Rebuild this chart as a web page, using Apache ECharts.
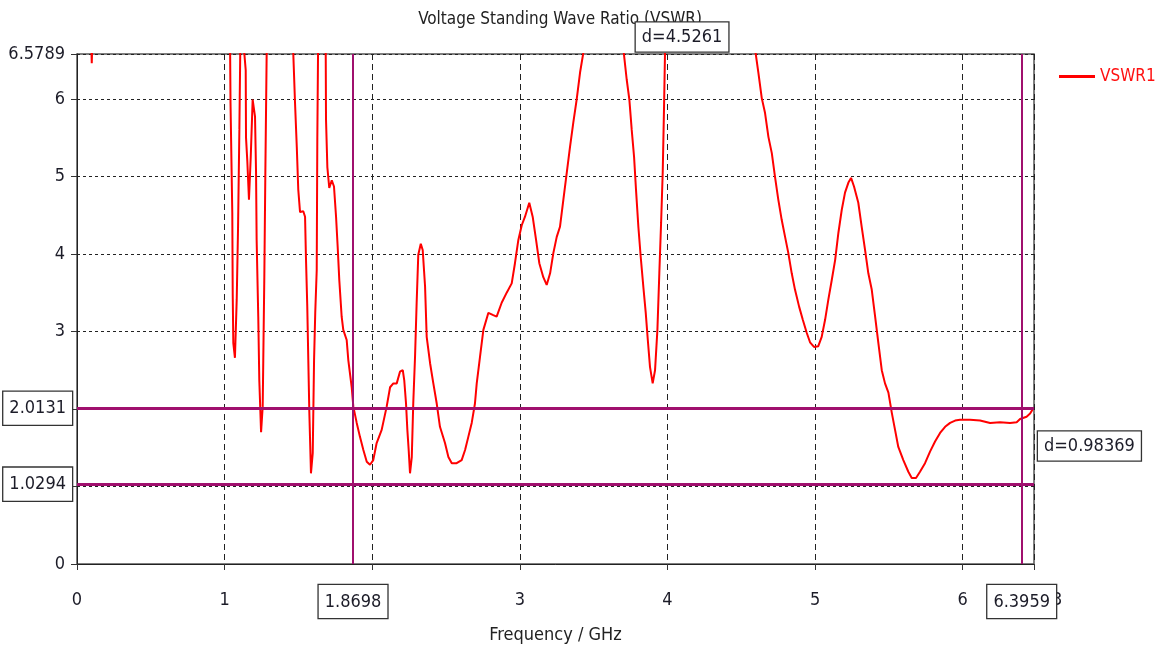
<!DOCTYPE html>
<html>
<head>
<meta charset="utf-8">
<title>VSWR</title>
<script src="https://cdn.jsdelivr.net/npm/echarts@6/dist/echarts.min.js"></script>
<style>
    html, body { margin: 0; padding: 0; background: #fff; overflow: hidden; }
    #chart { width: 1157px; height: 654px; }
</style>
</head>
<body>
<div id="chart"></div>
<script>
// frequency (GHz) and VSWR; values above the top are clipped
var freq = [
    0, 0.09, 0.10, 0.11, 0.3, 0.9, 1.02, 1.037, 1.040, 1.052, 1.055, 1.059, 1.070, 1.082, 1.091, 1.100, 1.106,
    1.12, 1.133, 1.143, 1.145, 1.154, 1.165, 1.177, 1.190, 1.199, 1.206, 1.213, 1.217, 1.228, 1.235, 1.247,
    1.258, 1.262, 1.269, 1.276, 1.285, 1.3, 1.45, 1.465, 1.477, 1.489, 1.499, 1.511, 1.533, 1.545, 1.551,
    1.560, 1.567, 1.574, 1.585, 1.597, 1.606, 1.614, 1.624, 1.628, 1.633, 1.66, 1.685, 1.687, 1.696, 1.709,
    1.726, 1.741, 1.755, 1.766, 1.777, 1.793, 1.804, 1.827, 1.838, 1.861, 1.872, 1.895, 1.917, 1.940, 1.963,
    1.985, 2.007, 2.030, 2.064, 2.098, 2.121, 2.143, 2.166, 2.188, 2.207, 2.217, 2.229, 2.238, 2.247, 2.256,
    2.268, 2.278, 2.290, 2.301, 2.312, 2.329, 2.342, 2.358, 2.369, 2.392, 2.414, 2.437, 2.459, 2.493, 2.516,
    2.539, 2.572, 2.606, 2.629, 2.651, 2.674, 2.696, 2.708, 2.730, 2.753, 2.787, 2.820, 2.843, 2.877, 2.911,
    2.945, 2.967, 2.990, 3.013, 3.035, 3.064, 3.087, 3.110, 3.132, 3.159, 3.182, 3.205, 3.227, 3.250, 3.272,
    3.295, 3.318, 3.340, 3.362, 3.385, 3.408, 3.435, 3.5, 3.65, 3.701, 3.724, 3.742, 3.758, 3.774, 3.787,
    3.803, 3.819, 3.837, 3.853, 3.867, 3.882, 3.900, 3.916, 3.932, 3.945, 3.957, 3.968, 3.977, 3.984, 4.1,
    4.5, 4.593, 4.616, 4.639, 4.661, 4.684, 4.707, 4.729, 4.751, 4.774, 4.797, 4.819, 4.842, 4.864, 4.892,
    4.917, 4.944, 4.966, 4.993, 5.022, 5.045, 5.068, 5.090, 5.113, 5.136, 5.158, 5.181, 5.203, 5.226, 5.244,
    5.264, 5.293, 5.316, 5.339, 5.361, 5.384, 5.407, 5.429, 5.452, 5.474, 5.497, 5.520, 5.542, 5.564, 5.598,
    5.632, 5.655, 5.684, 5.711, 5.745, 5.779, 5.813, 5.847, 5.881, 5.915, 5.949, 5.982, 6.050, 6.118, 6.186,
    6.253, 6.321, 6.366, 6.389, 6.433, 6.457, 6.479
];
var vswr = [
    8, 7.2, 6.46, 7.2, 9, 9, 7.2, 6.7, 5.95, 4.53, 3.47, 2.85, 2.66, 3.41, 4.33, 5.6, 6.6,
    7.5, 6.6, 6.37, 5.5, 5.19, 4.70, 5.25, 5.99, 5.99, 5.77, 5.05, 4.18, 3.19, 2.37, 1.70,
    2.03, 2.63, 3.70, 5.05, 6.6, 8, 8, 6.6, 5.95, 5.38, 4.83, 4.54, 4.55, 4.48, 3.96,
    3.32, 2.63, 1.95, 1.17, 1.43, 2.63, 3.24, 3.79, 5.47, 6.6, 7.5, 6.6, 5.73, 5.12, 4.85,
    4.95, 4.87, 4.48, 4.09, 3.66, 3.19, 3.02, 2.89, 2.63, 2.28, 2.03, 1.82, 1.64, 1.47, 1.32,
    1.28, 1.34, 1.56, 1.73, 2.03, 2.28, 2.33, 2.33, 2.48, 2.50, 2.37, 2.07, 1.73, 1.47, 1.17,
    1.38, 2.07, 2.67, 3.37, 3.99, 4.13, 4.05, 3.58, 2.93, 2.59, 2.33, 2.07, 1.77, 1.56, 1.38,
    1.30, 1.30, 1.34, 1.47, 1.64, 1.82, 2.07, 2.33, 2.67, 3.02, 3.24, 3.21, 3.19, 3.37, 3.50,
    3.62, 3.88, 4.18, 4.37, 4.48, 4.66, 4.48, 4.18, 3.88, 3.70, 3.60, 3.75, 4.01, 4.22, 4.35,
    4.70, 5.05, 5.38, 5.69, 5.99, 6.34, 6.65, 7.5, 7.5, 6.65, 6.25, 5.99, 5.60, 5.25, 4.83,
    4.35, 3.96, 3.57, 3.24, 2.89, 2.54, 2.33, 2.50, 3.02, 3.75, 4.40, 5.05, 5.90, 6.65, 9,
    8, 6.65, 6.34, 6.01, 5.82, 5.51, 5.30, 4.99, 4.70, 4.44, 4.22, 4.01, 3.75, 3.54, 3.32,
    3.15, 2.98, 2.86, 2.80, 2.81, 2.93, 3.15, 3.41, 3.66, 3.92, 4.27, 4.57, 4.79, 4.92, 4.98,
    4.87, 4.66, 4.35, 4.05, 3.75, 3.54, 3.19, 2.85, 2.50, 2.33, 2.21, 1.95, 1.73, 1.51, 1.34,
    1.19, 1.11, 1.11, 1.19, 1.30, 1.45, 1.58, 1.69, 1.77, 1.82, 1.85, 1.86, 1.86, 1.85, 1.82,
    1.83, 1.82, 1.83, 1.87, 1.90, 1.94, 2.01
];

// axis ends and marker positions
var xMax = 6.4833;
var yMax = 6.5789;
var markerFreq = [1.8698, 6.3959];
var markerVswr = [2.0131, 1.0294];
var deltaFreqText = 'd=4.5261';
var deltaVswrText = 'd=0.98369';

var FONT = "'Liberation Sans Narrow', 'DejaVu Sans Condensed', sans-serif";
var MARK_COLOR = '#a0106e';
var boxLabel = {
    show: true,
    color: '#1c1c28',
    fontFamily: FONT,
    fontSize: 18,
    backgroundColor: '#fff',
    borderColor: '#333',
    borderWidth: 1.3,
    padding: [8, 6, 7, 6]
};

var chart = echarts.init(document.getElementById('chart'));

var option = {
    animation: false,
    title: {
        text: 'Voltage Standing Wave Ratio (VSWR)',
        left: 555,
        top: 6,
        textAlign: 'center',
        textStyle: {fontFamily: FONT, fontSize: 17, fontWeight: 'normal', color: '#222'}
    },
    legend: {
        left: 1054,
        top: 63,
        icon: 'rect',
        itemWidth: 36,
        itemHeight: 3,
        itemGap: 8,
        textStyle: {fontFamily: FONT, fontSize: 17, color: '#ff1010'},
        data: ['VSWR1']
    },
    grid: {
        left: 77,
        right: 123,
        top: 54,
        bottom: 90,
        outerBoundsMode: 'none',
        show: true,
        borderColor: '#555',
        borderWidth: 1.5
    },
    xAxis: {
        type: 'value',
        min: 0,
        max: xMax,
        interval: 1,
        name: 'Frequency / GHz',
        nameLocation: 'middle',
        nameGap: 62,
        nameTextStyle: {fontFamily: FONT, fontSize: 18, color: '#222'},
        axisLine: {lineStyle: {color: '#222', width: 1}},
        axisTick: {show: true, length: 6, lineStyle: {color: '#333'}},
        axisLabel: {
            fontFamily: FONT, fontSize: 18, color: '#1c1c28', margin: 27,
            showMaxLabel: true,
            formatter: function (v) { return v === xMax ? '6.4833' : String(v); }
        },
        splitLine: {show: true, lineStyle: {color: '#222', type: [6, 4], width: 1}}
    },
    yAxis: {
        type: 'value',
        min: 0,
        max: yMax,
        interval: 1,
        axisLine: {show: true, lineStyle: {color: '#222', width: 1}},
        axisTick: {show: true, length: 6, lineStyle: {color: '#333'}},
        axisLabel: {
            fontFamily: FONT, fontSize: 18, color: '#1c1c28', margin: 12,
            showMaxLabel: true,
            formatter: function (v) { return v === yMax ? '6.5789' : String(v); }
        },
        splitLine: {show: true, lineStyle: {color: '#222', type: [3, 3], width: 1}}
    },
    series: [{
        name: 'VSWR1',
        type: 'line',
        symbol: 'none',
        clip: true,
        data: freq.map(function (f, i) { return [f, vswr[i]]; }),
        lineStyle: {color: '#ff0000', width: 2},
        itemStyle: {color: '#ff0000'},
        emphasis: {disabled: true},
        markLine: {
            silent: true,
            symbol: 'none',
            animation: false,
            data: [
                {yAxis: markerVswr[0], lineStyle: {width: 3},
                    label: Object.assign({position: 'start', distance: 5,
                        formatter: markerVswr[0].toFixed(4)}, boxLabel)},
                {yAxis: markerVswr[1], lineStyle: {width: 3},
                    label: Object.assign({position: 'start', distance: 5,
                        formatter: markerVswr[1].toFixed(4)}, boxLabel)},
                {xAxis: markerFreq[0], lineStyle: {width: 2},
                    label: Object.assign({position: 'start', distance: 21,
                        formatter: markerFreq[0].toFixed(4)}, boxLabel)},
                {xAxis: markerFreq[1], lineStyle: {width: 2},
                    label: Object.assign({position: 'start', distance: 21,
                        formatter: markerFreq[1].toFixed(4)}, boxLabel)}
            ],
            lineStyle: {color: MARK_COLOR, type: 'solid'}
        }
    }]
};

chart.setOption(option);

// delta boxes: placed from the axis scales
var midF = (markerFreq[0] + markerFreq[1]) / 2;
var midV = (markerVswr[0] + markerVswr[1]) / 2;
var pTop = chart.convertToPixel({gridIndex: 0}, [midF, yMax]);
var pRight = chart.convertToPixel({gridIndex: 0}, [xMax, midV]);

var boxStyle = {
    fill: '#1c1c28',
    font: '18px ' + FONT,
    backgroundColor: '#fff',
    borderColor: '#333',
    borderWidth: 1.3,
    padding: [6, 6, 5, 6]
};

chart.setOption({
    graphic: [
        {
            type: 'text', z: 100,
            x: pTop[0] - 5, y: pTop[1] - 17,
            style: Object.assign({text: deltaFreqText, align: 'center', verticalAlign: 'middle'}, boxStyle)
        },
        {
            type: 'text', z: 100,
            x: pRight[0] + 4, y: pRight[1],
            style: Object.assign({text: deltaVswrText, align: 'left', verticalAlign: 'middle'}, boxStyle)
        }
    ]
});
</script>
</body>
</html>
